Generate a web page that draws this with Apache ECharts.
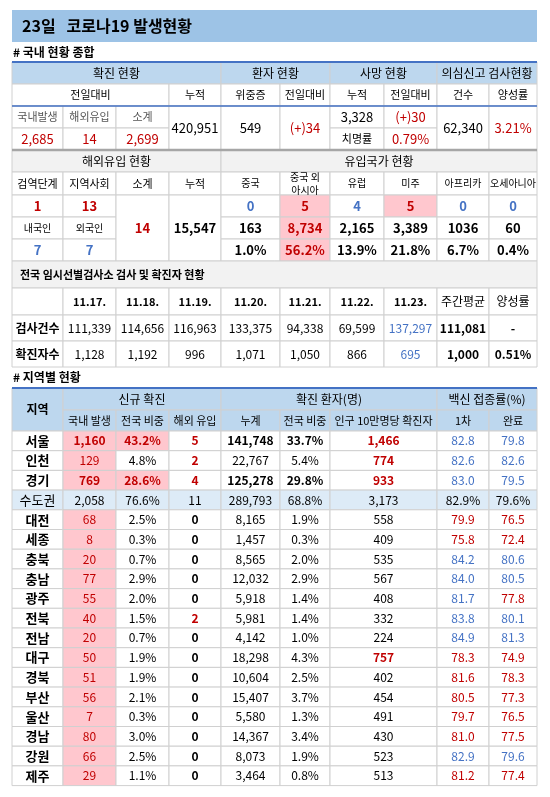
<!DOCTYPE html>
<html><head><meta charset="utf-8">
<script src="https://cdn.jsdelivr.net/npm/echarts@6/dist/echarts.min.js"></script>
<style>html,body{margin:0;padding:0;background:#fff}#c{width:550px;height:797px}</style>
</head><body><div id="c"></div>
<script>
const title = "23일   코로나19 발생현황";
const dailyLabels = ["국내발생","해외유입","소계"];
const dailyValues = ["2,685","14","2,699"];
const cumTotal = "420,951";
const severe = ["549","(+)34"];
const deaths = ["3,328","(+)30","0.79%"];
const tests = ["62,340","3.21%"];
const importHead = ["검역단계","지역사회","소계","누적","중국","중국 외\n아시아","유럽","미주","아프리카","오세아니아"];
const importStage = ["1","13"];
const importNat = ["7","7"];
const importSum = "14", importCum = "15,547";
const originNew = ["0","5","4","5","0","0"];
const originCum = ["163","8,734","2,165","3,389","1036","60"];
const originPct = ["1.0%","56.2%","13.9%","21.8%","6.7%","0.4%"];
const dates = ["11.17.","11.18.","11.19.","11.20.","11.21.","11.22.","11.23.","주간평균","양성률"];
const testCounts = ["111,339","114,656","116,963","133,375","94,338","69,599","137,297","111,081","-"];
const confirmed = ["1,128","1,192","996","1,071","1,050","866","695","1,000","0.51%"];
const regions = ["서울","인천","경기","수도권","대전","세종","충북","충남","광주","전북","전남","대구","경북","부산","울산","경남","강원","제주"];
const newLocal = ["1,160","129","769","2,058","68","8","20","77","55","40","20","50","51","56","7","80","66","29"];
const newShare = ["43.2%","4.8%","28.6%","76.6%","2.5%","0.3%","0.7%","2.9%","2.0%","1.5%","0.7%","1.9%","1.9%","2.1%","0.3%","3.0%","2.5%","1.1%"];
const newImport = ["5","2","4","11","0","0","0","0","0","2","0","0","0","0","0","0","0","0"];
const cumCases = ["141,748","22,767","125,278","289,793","8,165","1,457","8,565","12,032","5,918","5,981","4,142","18,298","10,604","15,407","5,580","14,367","8,073","3,464"];
const cumShare = ["33.7%","5.4%","29.8%","68.8%","1.9%","0.3%","2.0%","2.9%","1.4%","1.4%","1.0%","4.3%","2.5%","3.7%","1.3%","3.4%","1.9%","0.8%"];
const per100k = ["1,466","774","933","3,173","558","409","535","567","408","332","224","757","402","454","491","430","523","513"];
const vax1 = ["82.8","82.6","83.0","82.9%","79.9","75.8","84.2","84.0","81.7","83.8","84.9","78.3","81.6","80.5","79.7","81.0","82.9","81.2"];
const vaxFull = ["79.8","82.6","79.5","79.6%","76.5","72.4","80.6","80.5","77.8","80.1","81.3","74.9","78.3","77.3","76.5","77.5","79.6","77.4"];
const vax1Blue = ["서울","인천","경기","충북","충남","광주","전북","전남","강원"];
const vaxFullBlue = ["서울","인천","경기","충북","충남","전북","전남","강원"];

const X=[12,63,116,169,221,280,330,384,437,489,537];
const RED='#c00000',BLUE='#4472c4',HB='#bdd7ee',GRAY='#f2f2f2',PINK='#ffc7ce',LB='#ddebf7';
const F='"Noto Sans CJK KR","Noto Sans",sans-serif';
const els=[];
function cell(c0,c1,y0,y1,text,o){o=o||{};
  els.push({type:'rect',shape:{x:X[c0],y:y0,width:X[c1]-X[c0],height:y1-y0},style:{fill:o.bg||'#fff',stroke:'#d0d0d0',lineWidth:1},z:1});
  if(text!==undefined&&text!=='')els.push({type:'text',x:o.left?X[c0]+8:(X[c0]+X[c1])/2,y:(y0+y1)/2,
    style:{text:text,fill:o.color||'#000',font:(o.bold?'bold ':'')+(o.size||12)+'px '+F,align:o.left?'left':'center',verticalAlign:'middle',lineHeight:13},z:3});
}
function hline(y,color,w){els.push({type:'line',shape:{x1:X[0],y1:y,x2:X[10],y2:y},style:{stroke:color,lineWidth:w},z:5});}

els.push({type:'rect',shape:{x:12,y:10,width:525,height:32},style:{fill:'#9dc3e6'},z:1});
els.push({type:'text',x:22,y:26,style:{text:title,font:'bold 16px '+F,fill:'#000',verticalAlign:'middle'},z:3});
els.push({type:'text',x:13,y:52,style:{text:'# 국내 현황 종합',font:'bold 12px '+F,fill:'#000',verticalAlign:'middle'},z:3});

cell(0,4,62,84,'확진 현황',{bg:HB});cell(4,6,62,84,'환자 현황',{bg:HB});cell(6,8,62,84,'사망 현황',{bg:HB});cell(8,10,62,84,'의심신고 검사현황',{bg:HB});
cell(0,3,84,106,'전일대비',{size:11});cell(3,4,84,106,'누적',{size:11});cell(4,5,84,106,'위중증',{size:11});cell(5,6,84,106,'전일대비',{size:11});
cell(6,7,84,106,'누적',{size:11});cell(7,8,84,106,'전일대비',{size:11});cell(8,9,84,106,'건수',{size:11});cell(9,10,84,106,'양성률',{size:11});
dailyLabels.forEach((t,i)=>cell(i,i+1,106,128,t,{size:11,color:'#555'}));
dailyValues.forEach((t,i)=>cell(i,i+1,128,150,t,{color:RED,size:13}));
cell(3,4,106,150,cumTotal,{size:13});cell(4,5,106,150,severe[0],{size:13});cell(5,6,106,150,severe[1],{size:13,color:RED});
cell(6,7,106,128,deaths[0],{size:13});cell(7,8,106,128,deaths[1],{size:13,color:RED});
cell(6,7,128,150,'치명률',{size:11});cell(7,8,128,150,deaths[2],{size:13,color:RED});
cell(8,9,106,150,tests[0],{size:13});cell(9,10,106,150,tests[1],{size:13,color:RED});
hline(62,BLUE,2);hline(106,BLUE,1.5);

cell(0,4,150,172,'해외유입 현황',{bg:GRAY});cell(4,10,150,172,'유입국가 현황',{bg:GRAY});
importHead.forEach((t,i)=>cell(i,i+1,172,195,t,{size:i>=4?10:11}));
cell(0,1,195,217,importStage[0],{color:RED,size:13,bold:true});cell(1,2,195,217,importStage[1],{color:RED,size:13,bold:true});
cell(0,1,217,239,'내국인',{size:10});cell(1,2,217,239,'외국인',{size:10});
cell(0,1,239,261,importNat[0],{color:BLUE,size:13,bold:true});cell(1,2,239,261,importNat[1],{color:BLUE,size:13,bold:true});
cell(2,3,195,261,importSum,{color:RED,size:13,bold:true});cell(3,4,195,261,importCum,{size:13,bold:true});
originNew.forEach((t,i)=>{const hi=(i==1||i==3);cell(4+i,5+i,195,217,t,{color:hi?RED:BLUE,bg:hi?PINK:'#fff',size:13,bold:true});});
originCum.forEach((t,i)=>{const hi=i==1;cell(4+i,5+i,217,239,t,{color:hi?RED:'#000',bg:hi?PINK:'#fff',size:13,bold:true});});
originPct.forEach((t,i)=>{const hi=i==1;cell(4+i,5+i,239,261,t,{color:hi?RED:'#000',bg:hi?PINK:'#fff',size:13,bold:true});});
hline(150,'#a6a6a6',2.5);

cell(0,10,261,288,'전국 임시선별검사소 검사 및 확진자 현황',{bg:GRAY,left:true,bold:true,size:11});
cell(0,1,288,315,'');
dates.forEach((t,i)=>cell(i+1,i+2,288,315,t,{bold:i<7,size:i<7?11:12}));
cell(0,1,315,341,'검사건수',{bold:true,size:12});
testCounts.forEach((t,i)=>cell(i+1,i+2,315,341,t,{size:12,color:i==6?BLUE:'#000',bold:i>=7}));
cell(0,1,341,367,'확진자수',{bold:true,size:12});
confirmed.forEach((t,i)=>cell(i+1,i+2,341,367,t,{size:12,color:i==6?BLUE:'#000',bold:i>=7}));

els.push({type:'text',x:13,y:377,style:{text:'# 지역별 현황',font:'bold 12px '+F,fill:'#000',verticalAlign:'middle'},z:3});
cell(0,1,388,431,'지역',{bg:HB,bold:true});
cell(1,4,388,410,'신규 확진',{bg:HB});cell(4,8,388,410,'확진 환자(명)',{bg:HB});cell(8,10,388,410,'백신 접종률(%)',{bg:HB});
['국내 발생','전국 비중','해외 유입','누계','전국 비중'].forEach((t,i)=>cell(i+1,i+2,410,431,t,{bg:HB,size:11}));
cell(6,8,410,431,'인구 10만명당 확진자',{bg:HB,size:11});cell(8,9,410,431,'1차',{bg:HB,size:11});cell(9,10,410,431,'완료',{bg:HB,size:11});
hline(388,BLUE,2);
const RH=19.7;
regions.forEach((r,i)=>{
  const y0=431+i*RH,y1=y0+RH,cap=i==3,top=i<3&&i!=1;
  const bg=cap?LB:'#fff';
  cell(0,1,y0,y1,r,{bg:bg,bold:!cap,size:13});
  cell(1,2,y0,y1,newLocal[i],{bg:cap?LB:PINK,color:cap?'#000':RED,bold:top,size:12});
  cell(2,3,y0,y1,newShare[i],{bg:top?PINK:bg,color:top?RED:'#000',bold:top,size:12});
  cell(3,4,y0,y1,newImport[i],{bg:bg,color:cap?'#000':(newImport[i]!=='0'?RED:'#000'),bold:!cap,size:12});
  cell(4,5,y0,y1,cumCases[i],{bg:bg,bold:top,size:12});
  cell(5,6,y0,y1,cumShare[i],{bg:bg,bold:top,size:12});
  const hiP=i<3||r==='대구';
  cell(6,8,y0,y1,per100k[i],{bg:bg,color:hiP?RED:'#000',bold:hiP,size:12});
  const c1=cap?'#000':(vax1Blue.includes(r)?BLUE:RED);
  const c2=cap?'#000':(vaxFullBlue.includes(r)?BLUE:RED);
  cell(8,9,y0,y1,vax1[i],{bg:bg,color:c1,size:12});
  cell(9,10,y0,y1,vaxFull[i],{bg:bg,color:c2,size:12});
});

const chart=echarts.init(document.getElementById('c'),null,{renderer:'canvas'});
chart.setOption({animation:false,graphic:{elements:els}});
</script></body></html>
